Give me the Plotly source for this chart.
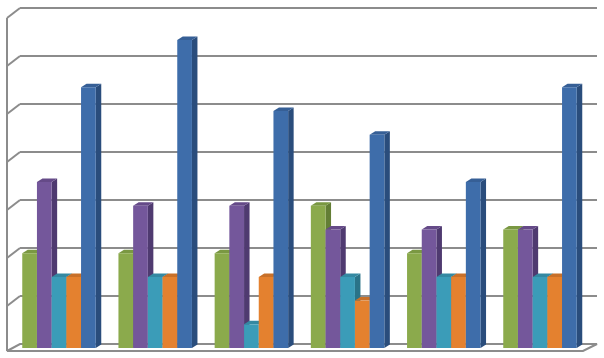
import plotly.graph_objects as go

# ---- data ----
categories = ["1", "2", "3", "4", "5", "6"]
series_names = ["Series 1", "Series 2", "Series 3", "Series 4", "Series 5"]
green = [2, 2, 2, 3, 2, 2.5]
purple = [3.5, 3, 3, 2.5, 2.5, 2.5]
teal = [1.5, 1.5, 0.5, 1.5, 1.5, 1.5]
orange = [1.5, 1.5, 1.5, 1, 1.5, 1.5]
blue = [5.5, 6.5, 5, 4.5, 3.5, 5.5]
grid_values = [0, 1, 2, 3, 4, 5, 6, 7]

series = [green, purple, teal, orange, blue]
front_colors = ["#8BAA4C", "#74579B", "#3B9CB8", "#E4812F", "#3E6DAA"]
top_colors = ["#7A9842", "#654A88", "#3489A2", "#C87029", "#365F96"]
side_colors = ["#637E35", "#4F3A70", "#2A7388", "#AD5F1F", "#2A4D7C"]

W, H = 604, 358
BARGAP = 0.236
N = len(series)
BW = (1 - BARGAP) / N          # bar width in category units
PX_PER_CAT = 96.2
PX_PER_VAL = 47.4
DX = 5.5 / PX_PER_CAT          # depth offset (x) in data units
DY = 3.5 / PX_PER_VAL          # depth offset (y) in data units


def px(x, y):
    return x / W, 1 - y / H


fig = go.Figure()
for j, vals in enumerate(series):
    fig.add_trace(go.Bar(
        x=categories, y=vals, name=series_names[j],
        marker=dict(color=front_colors[j], line=dict(width=0)),
        showlegend=False, hoverinfo="y",
    ))

shapes = []
gc = "#8C8C8C"
# back wall gridlines with left-wall diagonals
for k in grid_values:
    by = 344 - 48 * k
    x0, y0 = px(20, by)
    x1, y1 = px(597, by)
    shapes.append(dict(type="line", xref="paper", yref="paper", x0=x0, y0=y0, x1=x1, y1=y1,
                       line=dict(color=gc, width=2), layer="below"))
    if k > 0:
        a0, b0 = px(7, by + 10)
        shapes.append(dict(type="line", xref="paper", yref="paper", x0=a0, y0=b0, x1=x0, y1=y0,
                           line=dict(color=gc, width=2), layer="below"))
# left wall front edge
a0, b0 = px(7, 18)
a1, b1 = px(7, 351)
shapes.append(dict(type="line", xref="paper", yref="paper", x0=a0, y0=b0, x1=a1, y1=b1,
                   line=dict(color=gc, width=2), layer="below"))
# floor outline
p = [px(7, 351), px(583, 351), px(597, 344), px(20, 344)]
path = "M {} {} L {} {} L {} {} L {} {} Z".format(p[0][0], p[0][1], p[1][0], p[1][1],
                                                  p[2][0], p[2][1], p[3][0], p[3][1])
shapes.append(dict(type="path", xref="paper", yref="paper", path=path,
                   line=dict(color=gc, width=2), fillcolor="rgba(0,0,0,0)", layer="below"))

# 3D faces of bars (side and top), computed from data
for i in range(len(categories)):
    for j, vals in enumerate(series):
        v = vals[i]
        c = i + (j - (N - 1) / 2) * BW
        l, r = c - BW / 2, c + BW / 2
        side = f"M {r} 0 L {r} {v} L {r+DX} {v+DY} L {r+DX} {DY} Z"
        top = f"M {l} {v} L {r} {v} L {r+DX} {v+DY} L {l+DX} {v+DY} Z"
        shapes.append(dict(type="path", xref="x", yref="y", path=side,
                           fillcolor=side_colors[j], line=dict(width=0), layer="below"))
        shapes.append(dict(type="path", xref="x", yref="y", path=top,
                           fillcolor=top_colors[j], line=dict(width=0), layer="below"))

x_lo, x_hi = 10.9 / W, 588.1 / W
fig.update_layout(
    width=W, height=H,
    margin=dict(l=0, r=0, t=0, b=0, pad=0),
    paper_bgcolor="white", plot_bgcolor="rgba(0,0,0,0)",
    barmode="group", bargap=BARGAP, bargroupgap=0,
    shapes=shapes,
    xaxis=dict(domain=[x_lo, x_hi], range=[-0.5, 5.5], showticklabels=False,
               showgrid=False, zeroline=False, showline=False, ticks="",
               type="category", fixedrange=True),
    yaxis=dict(domain=[0, 1], range=[(348 - H) / PX_PER_VAL, 348 / PX_PER_VAL],
               showticklabels=False, showgrid=False, zeroline=False, showline=False,
               ticks="", fixedrange=True),
)

fig.write_html(
    "out.html",
    config={"displayModeBar": False},
    post_script="document.body.style.margin='0';document.body.style.overflow='hidden';",
)
